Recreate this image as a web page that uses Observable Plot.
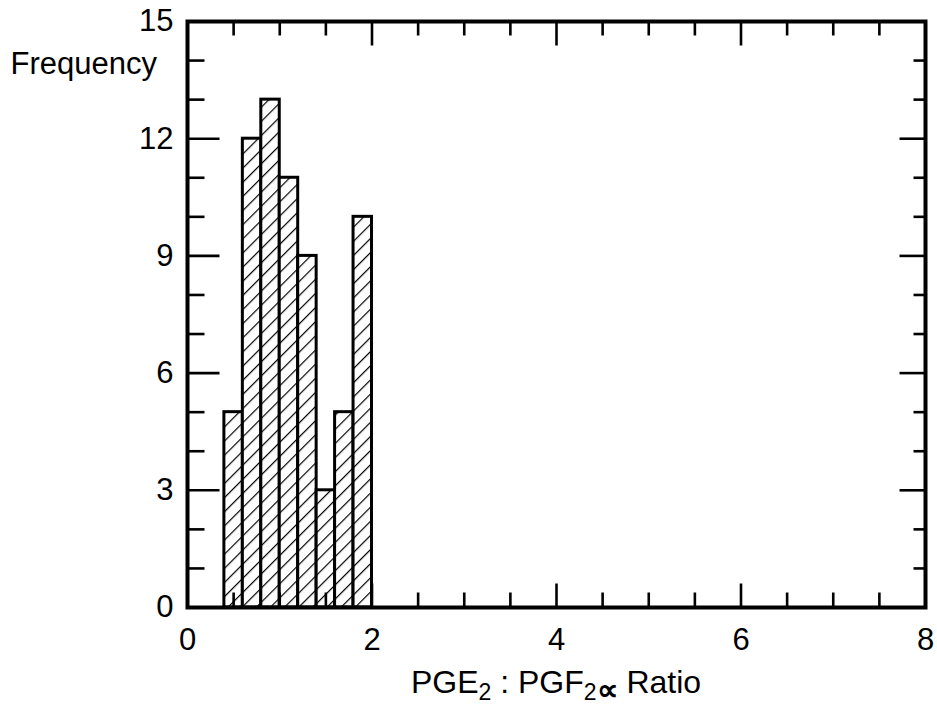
<!DOCTYPE html>
<html>
<head>
<meta charset="utf-8">
<script src="https://cdn.jsdelivr.net/npm/d3@7"></script>
<script src="https://cdn.jsdelivr.net/npm/@observablehq/plot@0.6"></script>
<style>
  html, body { margin: 0; padding: 0; background: #fff; }
  svg { display: block; }
</style>
</head>
<body>
<div id="chart"></div>
<script>
// ---- data ----
const binEdges = [0.4, 0.6, 0.8, 1.0, 1.2, 1.4, 1.6, 1.8, 2.0];
const frequencies = [5, 12, 13, 11, 9, 3, 5, 10];

const xTickLabels = [0, 2, 4, 6, 8];
const xMinorTicks = [0.5, 1, 1.5, 2.5, 3, 3.5, 4.5, 5, 5.5, 6.5, 7, 7.5];
const xMajorTicks = [2, 4, 6];
const yTickLabels = [0, 3, 6, 9, 12, 15];
const yMinorTicks = [1, 2, 4, 5, 7, 8, 10, 11, 13, 14];
const yMajorTicks = [3, 6, 9, 12];

const yLabel = "Frequency";

// table for the bars
const bars = frequencies.map((f, i) => ({lo: binEdges[i], hi: binEdges[i + 1], freq: f}));

const FONT = "'Liberation Sans', Arial, Helvetica, sans-serif";
const FS = 31;

// straight tick shape for Plot.vector
const tickShape = {draw(context, l) { context.moveTo(0, 0); context.lineTo(0, -l); }};
const tickOpts = {shape: tickShape, anchor: "start", stroke: "black", strokeWidth: 2.6, strokeLinecap: "butt"};

// pattern defs mark
const hatchDefs = () => {
  const defs = d3.create("svg:defs");
  const p = defs.append("pattern")
    .attr("id", "hatch")
    .attr("patternUnits", "userSpaceOnUse")
    .attr("width", 10).attr("height", 10)
    .attr("patternTransform", "rotate(45)");
  p.append("rect").attr("width", 10).attr("height", 10).attr("fill", "white");
  p.append("line").attr("x1", 0).attr("y1", 0).attr("x2", 0).attr("y2", 10)
    .attr("stroke", "black").attr("stroke-width", 2.4);
  return defs.node();
};

// x-axis title with subscripts
const xTitle = (index, scales, values, dims) => {
  const cx = (dims.marginLeft + dims.width - dims.marginRight) / 2;
  const t = d3.create("svg:text")
    .attr("x", cx).attr("y", dims.height - 20)
    .attr("text-anchor", "middle")
    .attr("font-family", FONT)
    .attr("font-size", 32)
    .attr("fill", "black");
  t.append("tspan").text("PGE");
  t.append("tspan").attr("font-size", 23).attr("dy", 7).text("2");
  t.append("tspan").attr("dy", -7).text(" : PGF");
  t.append("tspan").attr("font-size", 23).attr("dy", 7).text("2");
  t.append("tspan").attr("font-size", 30).attr("font-weight", "bold").text("\u221D");
  t.append("tspan").attr("dy", -7).text(" Ratio");
  return t.node();
};

const chart = Plot.plot({
  width: 937,
  height: 713,
  marginLeft: 187,
  marginRight: 12,
  marginTop: 21,
  marginBottom: 106,
  style: {fontFamily: FONT, background: "white", color: "black"},
  x: {domain: [0, 8], label: null},
  y: {domain: [0, 15], label: null},
  marks: [
    hatchDefs,
    Plot.rectY(bars, {x1: "lo", x2: "hi", y: "freq", fill: "url(#hatch)", stroke: "black", strokeWidth: 3}),
    // bottom ticks
    Plot.vector(xMinorTicks, {x: d => d, frameAnchor: "bottom", rotate: 0, length: 15, ...tickOpts}),
    Plot.vector(xMajorTicks, {x: d => d, frameAnchor: "bottom", rotate: 0, length: 24, ...tickOpts}),
    // top ticks
    Plot.vector(xMinorTicks, {x: d => d, frameAnchor: "top", rotate: 180, length: 14, ...tickOpts}),
    Plot.vector(xMajorTicks, {x: d => d, frameAnchor: "top", rotate: 180, length: 24, ...tickOpts}),
    // left ticks
    Plot.vector(yMinorTicks, {y: d => d, frameAnchor: "left", rotate: 90, length: 17, ...tickOpts}),
    Plot.vector(yMajorTicks, {y: d => d, frameAnchor: "left", rotate: 90, length: 32, ...tickOpts}),
    // right ticks
    Plot.vector(yMinorTicks, {y: d => d, frameAnchor: "right", rotate: -90, length: 12, ...tickOpts}),
    Plot.vector(yMajorTicks, {y: d => d, frameAnchor: "right", rotate: -90, length: 26, ...tickOpts}),
    Plot.frame({stroke: "black", strokeWidth: 4}),
    Plot.axisX({ticks: xTickLabels, tickSize: 0, tickPadding: 20, fontSize: FS, label: null, tickFormat: d => String(d)}),
    Plot.axisY({ticks: yTickLabels, tickSize: 0, tickPadding: 14, fontSize: FS, label: null, tickFormat: d => String(d)}),
    Plot.text([yLabel], {text: d => d, frameAnchor: "top-left", textAnchor: "start", lineAnchor: "top", dx: -177, dy: 30, fontSize: FS, fill: "black"}),
    xTitle
  ]
});
document.getElementById("chart").appendChild(chart);
</script>
</body>
</html>
